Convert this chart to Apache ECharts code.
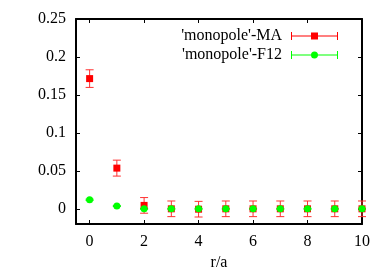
<!DOCTYPE html>
<html><head><meta charset="utf-8">
<script src="https://cdn.jsdelivr.net/npm/echarts@6/dist/echarts.min.js"></script>
<style>html,body{margin:0;padding:0;background:#fff}#c{width:389px;height:273px}</style>
</head><body><div id="c"></div>
<script>
const rValues = [0, 1, 2, 3, 4, 5, 6, 7, 8, 9, 10];
const maValues = [0.1715, 0.0536, 0.0045, 0.0, -0.0005, 0.0, 0.0, 0.0, 0.0, 0.0, 0.0];
const maErrors = [0.0116, 0.0105, 0.0103, 0.0103, 0.0103, 0.0103, 0.0103, 0.0103, 0.0103, 0.0103, 0.0103];
const f12Values = [0.0119, 0.0036, 0.0, 0.0, 0.0, 0.0, 0.0, 0.0, 0.0, 0.0, 0.0];
const f12Errors = [0.0008, 0.0006, 0.0006, 0.0006, 0.0006, 0.0006, 0.0006, 0.0006, 0.0006, 0.0006, 0.0006];
const xTicks = [0, 2, 4, 6, 8, 10];
const yTicks = [0, 0.05, 0.1, 0.15, 0.2, 0.25];
const yTickLabels = ['0', '0.05', '0.1', '0.15', '0.2', '0.25'];

const font = "'Liberation Serif', 'Times New Roman', 'DejaVu Serif', serif";
const chart = echarts.init(document.getElementById('c'), null, {renderer: 'canvas'});

function errSeries(name, vals, errs, color) {
  return {
    name: name, type: 'custom', z: 2,
    data: rValues.map((x, i) => [x, vals[i] - errs[i], vals[i] + errs[i]]),
    renderItem: function (params, api) {
      const lo = api.coord([api.value(0), api.value(1)]);
      const hi = api.coord([api.value(0), api.value(2)]);
      const w = 4;
      const style = {stroke: color, lineWidth: 1, fill: null};
      return {type: 'group', children: [
        {type: 'line', shape: {x1: lo[0], y1: lo[1], x2: hi[0], y2: hi[1]}, style: style},
        {type: 'line', shape: {x1: lo[0] - w, y1: lo[1], x2: lo[0] + w, y2: lo[1]}, style: style},
        {type: 'line', shape: {x1: hi[0] - w, y1: hi[1], x2: hi[0] + w, y2: hi[1]}, style: style}
      ]};
    },
    silent: true
  };
}

const errIconSquare = 'path://M0,3.5 L47,3.5 L47,4.5 L0,4.5 Z M0,0 L1,0 L1,8 L0,8 Z M46,0 L47,0 L47,8 L46,8 Z M20,0.5 L27,0.5 L27,7.5 L20,7.5 Z';
const errIconCircle = 'path://M0,3.5 L47,3.5 L47,4.5 L0,4.5 Z M0,0 L1,0 L1,8 L0,8 Z M46,0 L47,0 L47,8 L46,8 Z M23.5,0.5 A3.5,3.5 0 1 1 23.49,0.5 Z';

const axisCommon = {
  axisLine: {show: true, onZero: false, lineStyle: {color: '#000', width: 2}},
  axisTick: {show: true, inside: true, length: 4, lineStyle: {color: '#000', width: 1}},
  splitLine: {show: false}
};

chart.setOption({
  animation: false,
  textStyle: {fontFamily: font},
  grid: {left: 76, right: 27, top: 19, bottom: 49, outerBoundsMode: 'none', containLabel: false},
  legend: {
    orient: 'vertical', align: 'right', right: 46, top: 23,
    itemWidth: 47, itemHeight: 8, itemGap: 3,
    textStyle: {fontFamily: font, fontSize: 16, color: '#000', padding: [0, 4, 0, 0]},
    data: [
      {name: "'monopole'-MA", icon: errIconSquare},
      {name: "'monopole'-F12", icon: errIconCircle}
    ]
  },
  xAxis: [
    Object.assign({}, axisCommon, {
      type: 'value', min: -0.5, max: 10, position: 'bottom',
      name: 'r/a', nameLocation: 'middle', nameGap: 31,
      nameTextStyle: {fontFamily: font, fontSize: 16, color: '#000'},
      axisTick: Object.assign({}, axisCommon.axisTick, {customValues: xTicks}),
      axisLabel: {customValues: xTicks, fontFamily: font, fontSize: 16, color: '#000', margin: 10}
    }),
    Object.assign({}, axisCommon, {
      type: 'value', min: -0.5, max: 10, position: 'top',
      axisTick: Object.assign({}, axisCommon.axisTick, {customValues: xTicks}),
      axisLabel: {show: false}
    })
  ],
  yAxis: [
    Object.assign({}, axisCommon, {
      type: 'value', min: -0.02, max: 0.25, position: 'left',
      axisTick: Object.assign({}, axisCommon.axisTick, {customValues: yTicks}),
      axisLabel: {customValues: yTicks, fontFamily: font, fontSize: 16, color: '#000', margin: 10,
        formatter: function (v) { const i = yTicks.findIndex(t => Math.abs(t - v) < 1e-9); return i >= 0 ? yTickLabels[i] : ''; }}
    }),
    Object.assign({}, axisCommon, {
      type: 'value', min: -0.02, max: 0.25, position: 'right',
      axisTick: Object.assign({}, axisCommon.axisTick, {customValues: yTicks}),
      axisLabel: {show: false}
    })
  ],
  series: [
    errSeries('maErr', maValues, maErrors, '#ff3030'),
    {name: "'monopole'-MA", type: 'scatter', symbol: 'rect', symbolSize: 7, z: 3,
      itemStyle: {color: '#ff0000', opacity: 1}, data: rValues.map((x, i) => [x, maValues[i]])},
    errSeries('f12Err', f12Values, f12Errors, '#00ee00'),
    {name: "'monopole'-F12", type: 'scatter', symbol: 'circle', symbolSize: 7, z: 5,
      itemStyle: {color: '#00ff00', opacity: 1}, data: rValues.map((x, i) => [x, f12Values[i]])}
  ]
});
</script></body></html>
